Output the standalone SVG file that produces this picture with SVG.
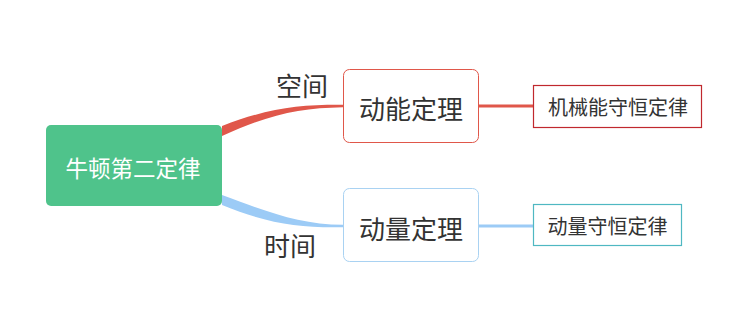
<svg xmlns="http://www.w3.org/2000/svg" width="751" height="325" viewBox="0 0 751 325">
<style>
text{font-family:"Noto Sans CJK SC","Noto Sans",sans-serif;fill:#333;text-anchor:middle;dominant-baseline:central}
.box{fill:#fff}
</style>
<rect width="751" height="325" fill="#fff"/>
<g id="connectors">
<path d="M222,126 C268,108 300,104.5 343,104.8 L343,107.2 C300,108 270,114 222,136 Z" fill="#e0574a"/>
<path d="M222,195 C268,212 300,224.5 343,224.8 L343,227.2 C300,228 268,224 222,205 Z" fill="#9ccbf6"/>
<line x1="478" y1="106" x2="533" y2="106" stroke="#e0574a" stroke-width="3"/>
<line x1="478" y1="226" x2="533" y2="226" stroke="#9ccbf6" stroke-width="3"/>
</g>
<g id="label-kongjian"><text x="302" y="84" font-size="26">空间</text></g>
<g id="label-shijian"><text x="290" y="244" font-size="26">时间</text></g>
<g id="root">
<rect x="46" y="125" width="176" height="81" rx="5" fill="#4fc38b"/>
<text x="133" y="167" font-size="22.5" style="fill:#fff">牛顿第二定律</text>
</g>
<g id="dongneng">
<rect class="box" x="343.5" y="69.5" width="135" height="73" rx="6" stroke="#e0574a" stroke-width="1"/>
<text x="411" y="107" font-size="26">动能定理</text>
</g>
<g id="dongliang">
<rect class="box" x="343.5" y="188.5" width="135" height="73" rx="6" stroke="#a9d2f2" stroke-width="1"/>
<text x="411" y="227" font-size="26">动量定理</text>
</g>
<g id="jixieneng">
<rect class="box" x="533.5" y="85.5" width="168" height="42" stroke="#c0282e" stroke-width="1.2"/>
<text x="618" y="106.5" font-size="20">机械能守恒定律</text>
</g>
<g id="dongliangshouheng">
<rect class="box" x="533.5" y="204.5" width="148" height="41" stroke="#4fb8c2" stroke-width="1.2"/>
<text x="607.5" y="225.5" font-size="20">动量守恒定律</text>
</g>
</svg>
